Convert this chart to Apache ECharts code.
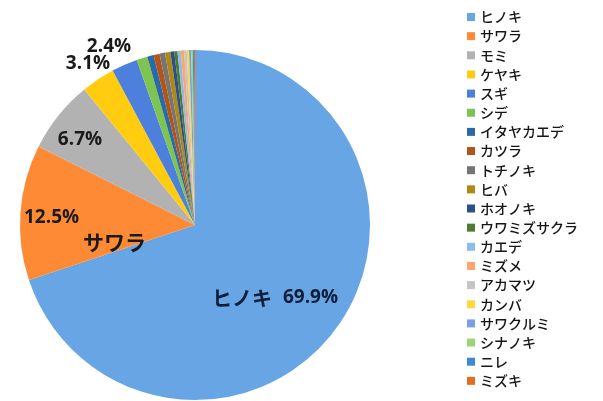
<!DOCTYPE html>
<html>
<head>
<meta charset="utf-8">
<script src="https://cdn.jsdelivr.net/npm/echarts@6/dist/echarts.min.js"></script>
<style>
  html, body { margin: 0; padding: 0; background: #fff; }
  #chart { width: 603px; height: 401px; }
</style>
</head>
<body>
<div id="chart"></div>
<script>
// Tree species and their share of the stand (%)
const species = [
  'ヒノキ', 'サワラ', 'モミ', 'ケヤキ', 'スギ', 'シデ', 'イタヤカエデ', 'カツラ',
  'トチノキ', 'ヒバ', 'ホオノキ', 'ウワミズサクラ', 'カエデ', 'ミズメ', 'アカマツ',
  'カンバ', 'サワクルミ', 'シナノキ', 'ニレ', 'ミズキ'
];
const shares = [
  69.9, 12.5, 6.7, 3.1, 2.4, 1.0, 0.6, 0.55,
  0.5, 0.5, 0.35, 0.3, 0.3, 0.3, 0.25,
  0.2, 0.2, 0.15, 0.1, 0.1
];
// Species whose share is written on the pie
const labelled = ['ヒノキ', 'サワラ', 'モミ', 'ケヤキ', 'スギ'];

const palette = [
  '#67A5E4', '#FF8A35', '#B2B2B2', '#FFCC10', '#4C80DC', '#7DC451', '#2A6AA6', '#B35418',
  '#757575', '#AE8A14', '#2C4E8A', '#4E7A33', '#8BBDEB', '#FFA56A', '#C5C5C5',
  '#FFD940', '#7AA0E3', '#9CD478', '#3A8CD6', '#E36E1E'
];

// Where each written share sits on the canvas
const labelSpots = {
  0: { x: 275, y: 298, align: 'center', verticalAlign: 'middle' },
  1: { x: 24, y: 206, align: 'left', verticalAlign: 'top' },
  2: { x: 80, y: 140, align: 'center', verticalAlign: 'middle' },
  3: { x: 88, y: 64, align: 'center', verticalAlign: 'middle' },
  4: { x: 109, y: 47, align: 'center', verticalAlign: 'middle' }
};

function shareText(name, value) {
  const pct = value.toFixed(1) + '%';
  if (name === 'ヒノキ') return '{h|' + name + '}{gap|}{hv|' + pct + '}';
  if (name === 'サワラ') return '{v|' + pct + '}\n{sp|}{n|' + name + '}';
  return '{v|' + pct + '}';
}

const pieData = species.map((name, i) => ({
  name: name,
  value: shares[i],
  label: { show: labelled.indexOf(name) >= 0 }
}));

const chart = echarts.init(document.getElementById('chart'), null, { renderer: 'canvas' });
chart.setOption({
  animation: false,
  color: palette,
  legend: {
    orient: 'vertical',
    left: 467,
    top: 10,
    padding: 0,
    icon: 'rect',
    itemWidth: 8,
    itemHeight: 8,
    itemGap: 5.15,
    textStyle: {
      fontFamily: 'Noto Sans CJK JP',
      fontWeight: 500,
      fontSize: 14,
      lineHeight: 14,
      color: '#161616'
    },
    data: species
  },
  series: [{
    type: 'pie',
    center: [195, 225],
    radius: 175,
    startAngle: 90,
    clockwise: true,
    avoidLabelOverlap: false,
    itemStyle: { borderWidth: 0 },
    label: {
      position: 'inside',
      formatter: p => shareText(p.name, p.value),
      rich: {
        h: { fontFamily: 'Noto Sans CJK JP', fontWeight: 'bold', fontSize: 20, color: '#0f1d38' },
        gap: { width: 11 },
        hv: { fontFamily: 'Open Sans', fontWeight: 'bold', fontSize: 19, color: '#0f1d38' },
        v: { fontFamily: 'Open Sans', fontWeight: 'bold', fontSize: 19, color: '#1a1a1a', lineHeight: 24 },
        n: { fontFamily: 'Noto Sans CJK JP', fontWeight: 'bold', fontSize: 21, color: '#1a1a1a', lineHeight: 24 },
        sp: { width: 59 }
      }
    },
    labelLine: { show: false },
    labelLayout: p => labelSpots[p.dataIndex] || {},
    emphasis: { disabled: true },
    data: pieData
  }]
});
</script>
</body>
</html>
